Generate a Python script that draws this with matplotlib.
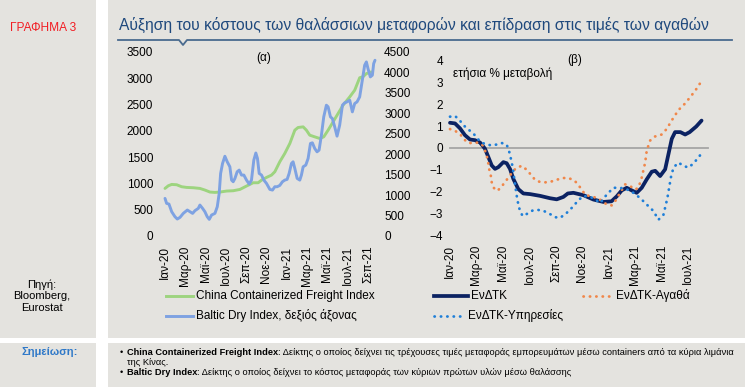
import matplotlib
matplotlib.use('Agg')
import matplotlib.pyplot as plt
from matplotlib.patches import Rectangle
from matplotlib.lines import Line2D

plt.rcParams['font.family'] = ['Liberation Sans', 'DejaVu Sans']

W, H = 745, 390

# ---------------- data ----------------
tick_months_a = [0, 2, 4, 6, 8, 10, 12, 14, 16, 18, 20]
tick_labels_a = ['Ιαν-20', 'Μαρ-20', 'Μαϊ-20', 'Ιουλ-20', 'Σεπ-20', 'Νοε-20',
                 'Ιαν-21', 'Μαρ-21', 'Μαϊ-21', 'Ιουλ-21', 'Σεπ-21']
tick_months_b = [0, 2, 4, 6, 8, 10, 12, 14, 16, 18]
tick_labels_b = tick_labels_a[:10]

# China Containerized Freight Index (left axis); time in months since Jan-2020
ccfi_t = [0.00, 0.33, 0.66, 1.15, 1.64, 2.13, 2.79, 3.44, 3.93, 4.43, 4.92, 5.41,
          6.07, 6.72, 7.38, 8.03, 8.69, 9.18, 9.51, 10.00, 10.49, 10.82, 11.31,
          11.80, 12.30, 12.79, 13.11, 13.61, 13.93, 14.26, 14.75, 15.25, 15.64,
          16.07, 16.56, 17.05, 17.54, 18.20, 18.69, 19.18, 19.51, 19.84, 20.33]
ccfi_v = [905, 956, 981, 975, 937, 924, 918, 905, 874, 836, 829, 836,
          855, 861, 886, 950, 1013, 1013, 1063, 1114, 1158, 1222, 1412,
          1570, 1760, 2013, 2064, 2076, 2013, 1918, 1886, 1855, 1886,
          2013, 2171, 2329, 2488, 2646, 2773, 3010, 3030, 3089, 3121]

# Baltic Dry Index (right axis)
bdi_t = [0.00, 0.16, 0.39, 0.66, 0.98, 1.21, 1.48, 1.80, 2.20, 2.46, 2.72, 2.95,
         3.28, 3.44, 3.70, 3.93, 4.16, 4.36, 4.59, 4.92, 5.15, 5.34, 5.48, 5.67,
         5.90, 6.13, 6.39, 6.56, 6.72, 6.89, 7.11, 7.31, 7.54, 7.77, 8.03, 8.30,
         8.52, 8.75, 8.95, 9.11, 9.28, 9.51, 9.74, 10.00, 10.33, 10.59, 10.82,
         11.05, 11.31, 11.57, 11.80, 12.03, 12.23, 12.46, 12.62, 12.79, 13.02,
         13.28, 13.44, 13.61, 13.87, 14.10, 14.33, 14.52, 14.75, 14.98, 15.18,
         15.41, 15.64, 15.90, 16.07, 16.30, 16.49, 16.72, 16.95, 17.21, 17.48,
         17.70, 17.93, 18.20, 18.46, 18.69, 18.92, 19.18, 19.44, 19.67, 19.84,
         20.00, 20.23, 20.43, 20.56, 20.69]
bdi_v = [920, 798, 781, 594, 472, 415, 456, 553, 635, 594, 553, 619,
         676, 757, 676, 594, 472, 407, 513, 553, 716, 1042, 1530, 1774,
         1950, 1815, 1693, 1367, 1327, 1408, 1571, 1612, 1490, 1490, 1367, 1270,
         1367, 1856, 2030, 1897, 1530, 1490, 1367, 1286, 1140, 1123, 1205,
         1205, 1237, 1327, 1367, 1384, 1530, 1774, 1815, 1652, 1408,
         1367, 1490, 1693, 1734, 1897, 2263, 2279, 2141, 2059, 2100,
         2466, 2914, 3199, 3158, 2914, 2873, 2670, 2442, 2711, 3199,
         3256, 3280, 3321, 3036, 3240, 3280, 3403, 3810, 4176, 4257,
         4094, 3891, 3932, 4217, 4298]

# ΕνΔΤΚ, annual % change
hicp_t = [0.00, 0.38, 0.76, 1.13, 1.51, 1.89, 2.27, 2.64, 2.90, 3.15, 3.40, 3.65,
          4.03, 4.28, 4.53, 4.79, 5.16, 5.54, 6.05, 6.80, 7.56, 8.06, 8.56, 8.90,
          9.32, 10.08, 10.83, 11.59, 12.20, 12.60, 12.97, 13.35, 13.73, 14.10,
          14.48, 14.86, 15.24, 15.50, 15.87, 16.25, 16.50, 16.75, 17.00, 17.40,
          17.76, 18.10, 18.60, 19.00]
hicp_v = [1.16, 1.13, 0.90, 0.59, 0.39, 0.36, 0.25, -0.03, -0.42, -0.80, -0.96, -0.88,
          -0.65, -0.70, -0.96, -1.43, -1.89, -2.09, -2.12, -2.20, -2.31, -2.36, -2.25, -2.09,
          -2.06, -2.17, -2.37, -2.48, -2.45, -2.22, -1.95, -1.83, -1.95, -2.06,
          -1.83, -1.44, -1.09, -1.05, -1.29, -0.98, -0.28, 0.42, 0.73, 0.73,
          0.62, 0.73, 0.99, 1.26]

# ΕνΔΤΚ-Αγαθά
goods_t = [0.00, 0.38, 0.76, 1.06, 1.39, 1.76, 2.14, 2.47, 2.64, 2.77, 2.90, 2.97,
           3.10, 3.15, 3.32, 3.58, 3.90, 4.16, 4.48, 4.74, 5.04, 5.42, 5.79, 6.10,
           6.42, 6.75, 7.18, 7.61, 8.06, 8.51, 8.94, 9.32, 9.57, 9.95, 10.20,
           10.58, 11.08, 11.46, 11.84, 12.22, 12.47, 12.85, 13.22, 13.60, 13.98,
           14.23, 14.48, 14.74, 14.86, 15.11, 15.49, 15.99, 16.37, 16.75, 17.25,
           17.76, 18.26, 18.64, 19.02]
goods_v = [0.87, 0.79, 0.64, 0.40, 0.23, 0.23, 0.25, 0.12, -0.11, -0.34, -0.73, -1.00,
           -1.32, -1.57, -1.84, -1.97, -1.78, -1.55, -1.32, -1.07, -0.91, -0.82, -1.00, -1.22,
           -1.46, -1.55, -1.58, -1.55, -1.46, -1.38, -1.38, -1.47, -1.60, -1.91, -2.14,
           -2.22, -2.29, -2.42, -2.60, -2.64, -2.45, -2.06, -1.67, -1.75, -1.91,
           -1.83, -1.36, -0.67, -0.12, 0.34, 0.53, 0.62, 0.88, 1.27, 1.74,
           2.05, 2.43, 2.74, 3.10]

# ΕνΔΤΚ-Υπηρεσίες
serv_t = [0.00, 0.38, 0.71, 1.01, 1.39, 1.76, 2.14, 2.47, 2.77, 3.15, 3.53, 3.90,
          4.28, 4.48, 4.66, 4.79, 4.91, 5.04, 5.16, 5.29, 5.49, 5.84, 6.25, 6.68,
          7.10, 7.51, 7.93, 8.31, 8.69, 9.02, 9.32, 9.70, 10.08, 10.83, 11.34,
          11.84, 12.34, 12.85, 13.35, 13.85, 14.36, 14.86, 15.37, 15.74, 16.12,
          16.42, 16.68, 16.88, 17.25, 17.63, 18.01, 18.39, 18.77, 19.02]
serv_v = [1.44, 1.47, 1.29, 1.05, 0.85, 0.67, 0.39, 0.23, 0.16, 0.12, 0.16, 0.23,
          0.16, -0.19, -0.65, -1.12, -1.66, -2.20, -2.60, -2.90, -3.13, -3.02, -2.87, -2.85,
          -2.90, -3.02, -3.18, -3.21, -3.05, -2.87, -2.67, -2.40, -2.20, -2.30, -2.53,
          -2.14, -1.83, -1.83, -1.90, -2.06, -2.30, -2.60, -2.90, -3.30, -3.07,
          -2.30, -1.36, -0.90, -0.67, -0.82, -0.90, -0.71, -0.43, -0.23]

# ---------------- styles ----------------
GRAY = '#E4E3DF'
GREEN = '#9DD47F'
LBLUE = '#7EA2E2'
NAVY = '#0B2262'
ORANGE = '#F0874A'
DBLUE = '#1F7FD8'
TITLE_C = '#1F497D'
DOT = (0, (0.1, 2.2))

fig = plt.figure(figsize=(W / 100, H / 100), dpi=100)
fig.patch.set_facecolor('white')


def fx(x):
    return x / W


def fy(y):
    return 1 - y / H


def rect(x0, y0, x1, y1, color):
    fig.add_artist(Rectangle((fx(x0), fy(y1)), (x1 - x0) / W, (y1 - y0) / H,
                             transform=fig.transFigure, facecolor=color,
                             edgecolor='none', zorder=0))


rect(0, 0, 96, 338, GRAY)
rect(108, 0, 745, 338, GRAY)
rect(0, 343, 96, 387, GRAY)
rect(108, 343, 745, 387, GRAY)


def px_axes(l, t, r, b):
    ax = fig.add_axes([fx(l), fy(b), (r - l) / W, (b - t) / H])
    ax.patch.set_visible(False)
    for s in ax.spines.values():
        s.set_visible(False)
    return ax


FS = 8.5

# ---------------- panel (a) ----------------
ax_a = px_axes(160, 52, 380, 236)
ax_a.set_xlim(-5 / 10.15, 215 / 10.15)
ax_a.set_ylim(0, 3500)
ax_a.set_yticks(range(0, 3501, 500))
ax_a.set_xticks(tick_months_a)
ax_a.set_xticklabels(tick_labels_a, rotation=90, va='top', ha='center')
ax_a.tick_params(length=0, labelsize=FS, colors='black')
ax_a.tick_params(axis='y', pad=5)
ax_a.tick_params(axis='x', pad=7)
ax_a.plot(ccfi_t, ccfi_v, color=GREEN, lw=2.1, solid_capstyle='round')

ax_a2 = ax_a.twinx()
ax_a2.patch.set_visible(False)
for s in ax_a2.spines.values():
    s.set_visible(False)
ax_a2.set_ylim(0, 4500)
ax_a2.set_yticks(range(0, 4501, 500))
ax_a2.tick_params(length=0, labelsize=FS, pad=3)
ax_a2.plot(bdi_t, bdi_v, color=LBLUE, lw=2.1, solid_capstyle='round')

fig.text(fx(264), fy(58), '(α)', ha='center', va='center', fontsize=FS)

# ---------------- panel (b) ----------------
ax_b = px_axes(447, 61, 710, 235)
ax_b.set_xlim(-3 / 13.24, 260 / 13.24)
ax_b.set_ylim(-4, 4)
ax_b.set_yticks(range(-4, 5))
ax_b.set_xticks(tick_months_b)
ax_b.set_xticklabels(tick_labels_b, rotation=90, va='top', ha='center')
ax_b.tick_params(length=0, labelsize=FS)
ax_b.tick_params(axis='y', pad=3)
ax_b.tick_params(axis='x', pad=7)
ax_b.axhline(0, xmin=3 / 263, xmax=261 / 263, color='#A5A5A5', lw=1.3, zorder=1)
ax_b.plot(hicp_t, hicp_v, color=NAVY, lw=2.7, solid_capstyle='round', zorder=3)
ax_b.plot(goods_t, goods_v, color=ORANGE, lw=2.0, ls=DOT, dash_capstyle='round', zorder=4)
ax_b.plot(serv_t, serv_v, color=DBLUE, lw=2.0, ls=DOT, dash_capstyle='round', zorder=5)

fig.text(fx(575), fy(60), '(β)', ha='center', va='center', fontsize=FS)
fig.text(fx(453), fy(74), 'ετήσια % μεταβολή', ha='left', va='center', fontsize=FS)

# ---------------- legends ----------------


def leg(x0, x1, y, text, **kw):
    fig.add_artist(Line2D([fx(x0), fx(x1)], [fy(y), fy(y)], transform=fig.transFigure, **kw))
    fig.text(fx(x1 + 3), fy(y), text, ha='left', va='center', fontsize=FS)


leg(166, 193, 296, 'China Containerized Freight Index', color=GREEN, lw=2.1)
leg(166, 193, 316, 'Baltic Dry Index, δεξιός άξονας', color=LBLUE, lw=2.1)
leg(434, 468, 296, 'ΕνΔΤΚ', color=NAVY, lw=2.7)
leg(583, 613, 296, 'ΕνΔΤΚ-Αγαθά', color=ORANGE, lw=2.0, ls=DOT, dash_capstyle='round')
leg(434, 465, 316, 'ΕνΔΤΚ-Υπηρεσίες', color=DBLUE, lw=2.0, ls=DOT, dash_capstyle='round')

# ---------------- titles & side texts ----------------
renderer = fig.canvas.get_renderer()


def width_of(t):
    return t.get_window_extent(renderer).width


def fit(t, width):
    t.set_fontsize(t.get_fontsize() * width / width_of(t))


t = fig.text(fx(10), fy(28), 'ΓΡΑΦΗΜΑ 3', color='#F21D23', fontsize=8.5, ha='left', va='center')
fit(t, 66)
t = fig.text(fx(119), fy(25), 'Αύξηση του κόστους των θαλάσσιων μεταφορών και επίδραση στις τιμές των αγαθών',
             color=TITLE_C, fontsize=10, ha='left', va='center')
fit(t, 590)

LC = '#4A6B8F'
fig.add_artist(Line2D([fx(118), fx(179), fx(183), fx(187), fx(732)],
                      [fy(40), fy(40), fy(45), fy(40), fy(40)],
                      transform=fig.transFigure, color=LC, lw=1.3))

fig.text(fx(42), fy(296), 'Πηγή:\nBloomberg,\nEurostat', ha='center', va='center',
         fontsize=8, linespacing=1.2)
fig.text(fx(50), fy(352), 'Σημείωση:', ha='center', va='center', fontsize=8,
         weight='bold', color='#2E78C8')

# ---------------- notes ----------------
note1_bold = 'China Containerized Freight Index'
note1_rest = ': Δείκτης ο οποίος δείχνει τις τρέχουσες τιμές μεταφοράς εμπορευμάτων μέσω containers από τα κύρια λιμάνια'
note1_cont = 'της Κίνας.'
note2_bold = 'Baltic Dry Index'
note2_rest = ': Δείκτης ο οποίος δείχνει το κόστος μεταφοράς των κύριων πρώτων υλών μέσω θαλάσσης'

# scale note font so that the first line spans x=127..738 like the reference
NFS0 = 6.0
tmp1 = fig.text(0, 0, note1_bold, fontsize=NFS0, weight='bold')
tmp2 = fig.text(0, 0, note1_rest, fontsize=NFS0)
NFS = NFS0 * 611 / (width_of(tmp1) + width_of(tmp2))
tmp1.remove()
tmp2.remove()


def note(x, y, bold, rest, bullet=True):
    if bullet:
        fig.text(fx(x - 7), fy(y), '•', ha='left', va='baseline', fontsize=NFS)
    wb = 0
    if bold:
        tb = fig.text(fx(x), fy(y), bold, ha='left', va='baseline', fontsize=NFS, weight='bold')
        wb = width_of(tb)
    fig.text(fx(x + wb), fy(y), rest, ha='left', va='baseline', fontsize=NFS)


note(127, 355, note1_bold, note1_rest)
note(127, 365, '', note1_cont, bullet=False)
note(127, 375, note2_bold, note2_rest)

fig.savefig('out.png', dpi=100, facecolor=fig.get_facecolor())
